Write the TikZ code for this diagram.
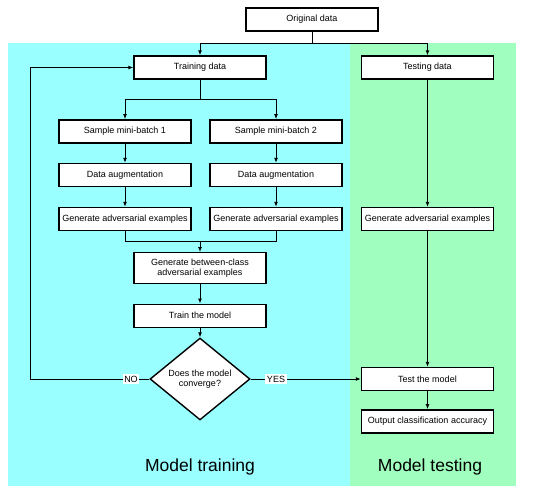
\documentclass[tikz,border=0pt]{standalone}
\usepackage{fontspec}
\setmainfont{Liberation Sans}
\usetikzlibrary{shapes.geometric,arrows.meta,positioning,calc}
\definecolor{trainbg}{RGB}{153,255,255}
\definecolor{testbg}{RGB}{160,255,190}

\begin{document}
\begin{tikzpicture}[x=1pt,y=-1pt,
    box/.style={draw, line width=1.4pt, fill=white, minimum width=132pt, minimum height=23pt,
      inner sep=1pt, align=center, font=\fontsize{9}{10.5}\selectfont},
    link/.style={draw, line width=0.9pt, -{Latex[length=5pt,width=4pt]}},
    plain/.style={draw, line width=0.9pt},
    tag/.style={fill=white, inner sep=1.5pt, font=\fontsize{9}{10}\selectfont}]
  \useasboundingbox (0,0) rectangle (550,491);

  % Backgrounds
  \fill[trainbg] (8,43.3) rectangle (350,486);
  \fill[testbg] (350,43.3) rectangle (516,486);

  % Boxes
  \node[box] (orig) at (312,19.5) {Original data};
  \node[box] (train) at (200,67.5) {Training data};
  \node[box] (test) at (427.5,67.5) {Testing data};
  \node[box] (mb1) at (125,131.3) {Sample mini-batch 1};
  \node[box] (mb2) at (276,131.3) {Sample mini-batch 2};
  \node[box] (aug1) at (125,175) {Data augmentation};
  \node[box] (aug2) at (276,175) {Data augmentation};
  \node[box] (adv1) at (125,219) {Generate adversarial examples};
  \node[box] (adv2) at (276,219) {Generate adversarial examples};
  \node[box] (advt) at (427.5,219) {Generate adversarial examples};
  \node[box, minimum height=30.6pt] (bc) at (200,268) {Generate between-class\\adversarial examples};
  \node[box] (fit) at (200,315.7) {Train the model};
  \node[box, diamond, minimum width=100pt, minimum height=63pt, inner sep=0pt] (conv) at (200,379) {Does the model\\converge?};
  \node[box] (eval) at (427.5,379) {Test the model};
  \node[box] (acc) at (427.5,421.3) {Output classification accuracy};

  % Junctions
  \coordinate (split0) at (312,43.3);
  \coordinate (split1) at (200,99);
  \coordinate (merge) at (200,241.7);
  \coordinate (loop) at (30.7,379);

  % Connectors
  \draw[plain] (orig.south) -- (split0);
  \draw[link] (split0) -| (train.north);
  \draw[link] (split0) -| (test.north);
  \draw[plain] (train.south) -- (split1);
  \draw[link] (split1) -| (mb1.north);
  \draw[link] (split1) -| (mb2.north);
  \draw[link] (mb1) -- (aug1);
  \draw[link] (mb2) -- (aug2);
  \draw[link] (aug1) -- (adv1);
  \draw[link] (aug2) -- (adv2);
  \draw[plain] (adv1.south) |- (merge);
  \draw[plain] (adv2.south) |- (merge);
  \draw[link] (merge) -- (bc.north);
  \draw[link] (bc) -- (fit);
  \draw[link] (fit) -- (conv.north);
  \draw[link] (conv.west) -- (loop) |- (train.west);
  \draw[link] (conv.east) -- (eval.west);
  \draw[link] (test) -- (advt);
  \draw[link] (advt) -- (eval);
  \draw[link] (eval) -- (acc);

  % Labels
  \node[tag] (no) at (131,379) {NO};
  \node[tag] (yes) at (276,379) {YES};
  \node[font=\fontsize{17.5}{20}\selectfont] (trainlbl) at (200,467) {Model training};
  \node[font=\fontsize{17.5}{20}\selectfont] (testlbl) at (430,467) {Model testing};
\end{tikzpicture}
\end{document}
